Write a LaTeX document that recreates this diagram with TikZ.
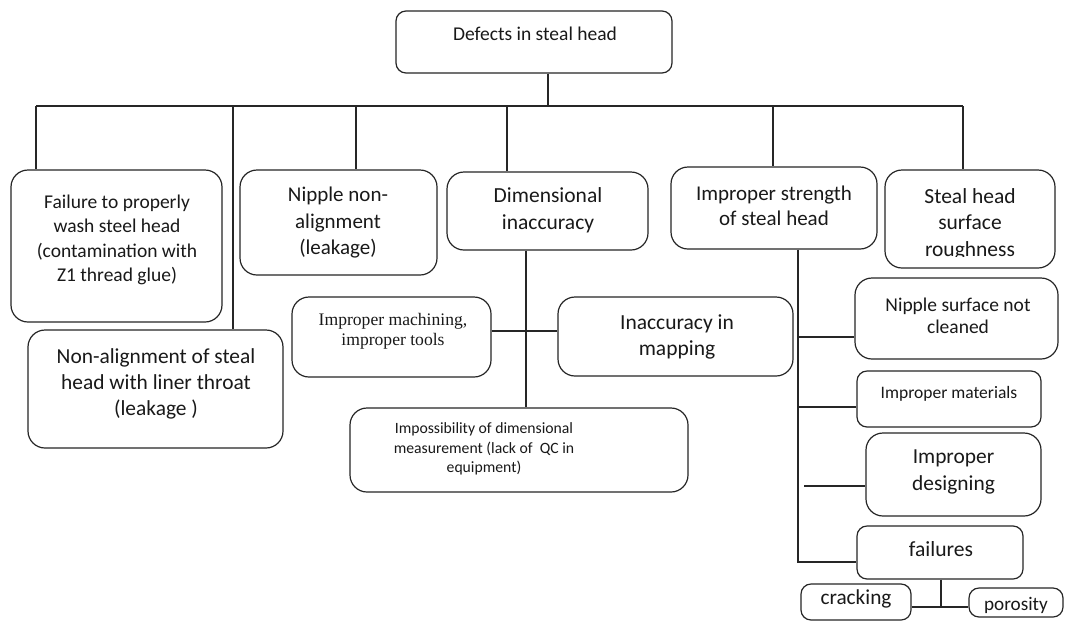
\documentclass[tikz,border=0pt]{standalone}
\usepackage{fontspec}
\setmainfont{Carlito}
\newfontfamily\tms{Liberation Serif}
\newcommand\fs[2]{\fontsize{#1}{#2}\selectfont}
\newcommand\mybox[6][]{\node[box, #1, minimum width={(#5)-(#3)}, minimum height={(#6)-(#4)}] (#2) at ({((#3)+(#5))/2},{((#4)+(#6))/2}) {};}
\begin{document}
\begin{tikzpicture}[x=1pt,y=-1pt,
  box/.style={draw=black!85, line width=1.2pt, rounded corners=17pt, inner sep=0pt, fill=white},
  smallbox/.style={rounded corners=10pt},
  txt/.style={align=center, inner sep=0pt, text=black!90},
  conn/.style={draw=black!85, line width=1.2pt}]
\useasboundingbox (0,0) rectangle (1065,630);
\fill[white] (0,0) rectangle (1065,630);
% boxes
\mybox[smallbox]{root}{396}{11}{672}{73}
\mybox{b1}{11}{170}{222}{322}
\mybox{b2}{28}{330}{283}{448}
\mybox{b3}{240}{170}{437}{275}
\mybox{b4}{447}{172}{648}{250}
\mybox{b5}{671}{167}{877}{249}
\mybox{b6}{885}{170}{1055}{268}
\mybox{b7}{292}{297}{491}{377}
\mybox{b8}{558}{297}{793}{376}
\mybox{b9}{350}{408}{688}{492}
\mybox{b10}{855}{278}{1058}{359}
\mybox[smallbox]{b11}{857}{371}{1041}{427}
\mybox{b12}{866}{433}{1041}{516}
\mybox[smallbox]{b13}{857}{526}{1023}{579}
\mybox[smallbox]{b14}{801}{584}{911}{620}
\mybox[smallbox]{b15}{969}{588}{1063}{617}
% texts
\node[txt, font=\fs{19.5}{24}] (t0) at (535,34) {Defects in steal head};
\node[txt, font=\fs{19.5}{24.5}] (t1) at (117,240) {Failure to properly\\wash steel head\\(contamination with\\Z1 thread glue)};
\node[txt, font=\fs{21.4}{26}] (t2) at (156,384) {Non-alignment of steal\\head with liner throat\\(leakage )};
\node[txt, font=\fs{21}{26.5}] (t3) at (338,223) {Nipple non-\\alignment\\(leakage)};
\node[txt, font=\fs{21.5}{27}] (t4) at (548,210) {Dimensional\\inaccuracy};
\node[txt, font=\fs{21}{25}] (t5) at (774,206) {Improper strength\\of steal head};
\begin{scope}
\clip (885,170) rectangle (1055,256);
\node[txt, font=\fs{21.5}{26.5}] (t6) at (970,224) {Steal head\\surface\\roughness};
\end{scope}
\node[txt, font=\tms\fs{17.6}{20}] (t7) at (393,331) {Improper machining,\\improper tools};
\node[txt, font=\fs{21.5}{26}] (t8) at (677,337) {Inaccuracy in\\mapping};
\node[txt, font=\fs{15.7}{19.5}] (t9) at (484,449) {Impossibility of dimensional\\measurement (lack of~ QC in\\equipment)};
\node[txt, font=\fs{19.5}{22}] (t10) at (958,316) {Nipple surface not\\cleaned};
\node[txt, font=\fs{17.5}{21}] (t11) at (949,394) {Improper materials};
\node[txt, font=\fs{21.4}{27}] (t12) at (953.5,472) {Improper\\designing};
\node[txt, font=\fs{21.6}{26}] (t13) at (941,549) {failures};
\node[txt, font=\fs{21.3}{26}] (t14) at (856,599) {cracking};
\node[txt, font=\fs{19.2}{24}] (t15) at (1016,605) {porosity};
% junction coordinates
\coordinate (j0) at (548,106);
\coordinate (barL) at (36,106);
\coordinate (barR) at (963,106);
\coordinate (d2) at (233,106);
\coordinate (d3) at (356,106);
\coordinate (d4) at (507,106);
\coordinate (d5) at (773,106);
\coordinate (s4) at (526,0);
\coordinate (s5) at (798,562);
\coordinate (g12) at (804,486);
\coordinate (s13) at (941,607);
% connectors
\draw[conn] (root.south -| j0) -- (j0);
\draw[conn] (barL) -- (barR);
\draw[conn] (barL) -- (barL |- b1.north);
\draw[conn] (d2) -- (d2 |- b2.north);
\draw[conn] (d3) -- (d3 |- b3.north);
\draw[conn] (d4) -- (d4 |- b4.north);
\draw[conn] (d5) -- (d5 |- b5.north);
\draw[conn] (barR) -- (barR |- b6.north);
\draw[conn] (b4.south -| s4) -- (b9.north -| s4);
\draw[conn] (b7.east |- 0,331) -- (b8.west |- 0,331);
\draw[conn] (b5.south -| s5) -- (s5) -- (s5 -| b13.west);
\draw[conn] (s5 |- 0,337) -- (b10.west |- 0,337);
\draw[conn] (s5 |- 0,407) -- (b11.west |- 0,407);
\draw[conn] (g12) -- (g12 -| b12.west);
\draw[conn] (b13.south -| s13) -- (s13);
\draw[conn] (b14.east |- s13) -- (b15.west |- s13);
\end{tikzpicture}
\end{document}
